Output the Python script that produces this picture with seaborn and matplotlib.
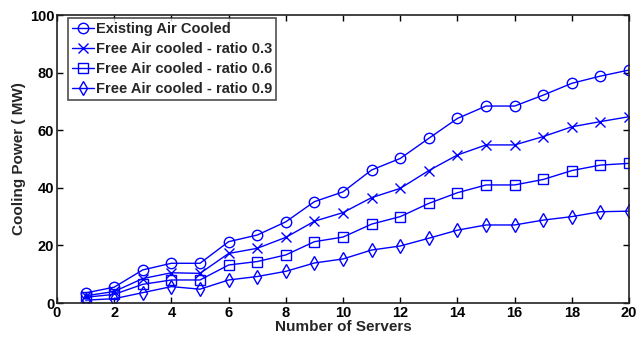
import matplotlib
matplotlib.use("Agg")
import matplotlib.pyplot as plt
import seaborn as sns
import pandas as pd

servers = list(range(1, 21))
existing = [3.5, 5.5, 11.5, 13.8, 13.8, 21.3, 23.6, 28.2, 35.2, 38.6, 46.2, 50.2, 57.2, 64.1, 68.4, 68.4, 72.2, 76.3, 78.8, 80.9]
ratio_03 = [2.5, 4.0, 8.5, 10.5, 10.3, 17.2, 19.0, 22.8, 28.4, 31.4, 36.6, 39.8, 46.0, 51.4, 54.9, 54.9, 57.8, 61.2, 63.0, 64.7]
ratio_06 = [2.0, 3.0, 6.5, 8.0, 8.0, 13.2, 14.4, 16.7, 21.3, 22.9, 27.4, 30.0, 34.6, 38.3, 41.0, 41.0, 42.9, 46.0, 47.9, 48.5]
ratio_09 = [1.0, 1.5, 3.6, 5.7, 4.8, 8.0, 9.2, 11.0, 13.9, 15.3, 18.4, 19.8, 22.5, 25.3, 27.1, 27.1, 28.8, 30.0, 31.7, 31.9]
labels = ["Existing Air Cooled", "Free Air cooled - ratio 0.3",
          "Free Air cooled - ratio 0.6", "Free Air cooled - ratio 0.9"]
series = [existing, ratio_03, ratio_06, ratio_09]
markers = ["o", "x", "s", "d"]
x_ticks = list(range(0, 21, 2))
y_ticks = list(range(0, 101, 20))

sns.set_theme(style="white")
plt.rcParams["font.family"] = ["Liberation Sans", "DejaVu Sans"]
plt.rcParams["font.weight"] = "bold"

fig = plt.figure(figsize=(6.36, 3.42), dpi=100)
ax = fig.add_axes([0.0896, 0.114, 0.8995, 0.842])

blue = "#0000ff"
for lab, vals, mk in zip(labels, series, markers):
    df = pd.DataFrame({"Servers": servers, "Power": vals})
    sns.lineplot(data=df, x="Servers", y="Power", ax=ax, color=blue,
                 marker=mk, markersize=7.5,
                 markerfacecolor="none", markeredgecolor=blue,
                 markeredgewidth=1.0, linewidth=1.0, label=lab)

ax.set_xlim(0, 20)
ax.set_ylim(0, 100)
ax.set_xticks(x_ticks)
ax.set_yticks(y_ticks)
ax.set_xticklabels([str(t) for t in x_ticks], fontsize=10.5, fontweight="bold")
ax.set_yticklabels([str(t) for t in y_ticks], fontsize=10.5, fontweight="bold")
ax.tick_params(direction="in", length=4, width=1, top=True, right=True,
               bottom=True, left=True, pad=2, colors="black")
for s in ax.spines.values():
    s.set_visible(True)
    s.set_color("#222222")
    s.set_linewidth(1.2)
ax.set_xlabel("Number of Servers", fontsize=11, fontweight="bold", labelpad=0)
ax.set_ylabel("Cooling Power ( MW)", fontsize=11, fontweight="bold", labelpad=3)

leg = ax.legend(loc="upper left", bbox_to_anchor=(0.019, 0.99), fontsize=10.5,
                frameon=True, fancybox=False, edgecolor="#222222",
                handlelength=1.5, handletextpad=0.1, borderpad=0.3,
                labelspacing=0.4, borderaxespad=0.0)
leg.get_frame().set_linewidth(1.2)
for t in leg.get_texts():
    t.set_fontweight("bold")

fig.savefig("out.png", dpi=100, facecolor="white")
